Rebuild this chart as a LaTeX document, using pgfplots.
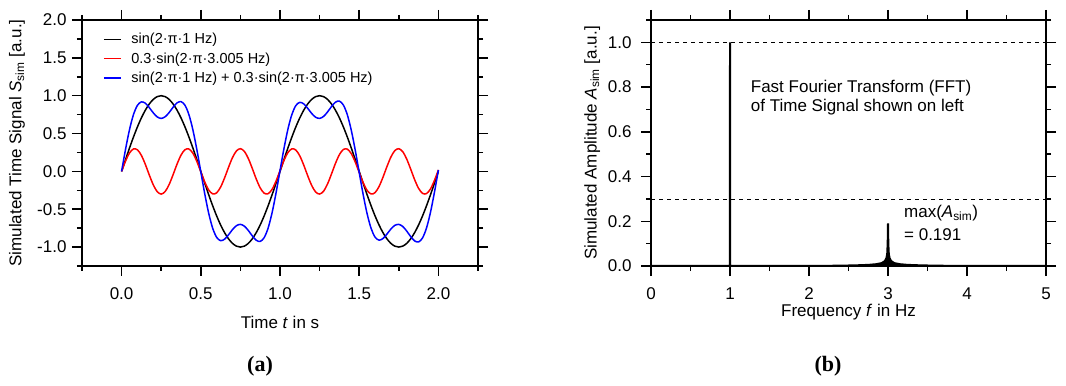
\documentclass[border=0pt]{standalone}
\usepackage{fontspec}
\setmainfont{Liberation Sans}
\newfontfamily\timesfont{Liberation Serif}
\usepackage{pgfplots}
\usepackage{pgfplotstable}
\pgfplotsset{compat=1.18}

\pgfplotstableread{
t b r s
0 0 0 0
0.025 0.15643 0.13641 0.29284
0.05 0.30902 0.24299 0.55201
0.075 0.45399 0.29642 0.75041
0.1 0.58779 0.28503 0.87282
0.125 0.70711 0.21130 0.91841
0.15 0.80902 0.09137 0.90039
0.175 0.89101 -0.04856 0.84245
0.2 0.95106 -0.17786 0.77320
0.225 0.98769 -0.26826 0.71943
0.25 1 -0.3 0.7
0.275 0.98769 -0.26612 0.72157
0.3 0.95106 -0.17405 0.77701
0.325 0.89101 -0.04390 0.84711
0.35 0.80902 0.09585 0.90487
0.375 0.70711 0.21463 0.92174
0.4 0.58779 0.28649 0.87428
0.425 0.45399 0.29568 0.74967
0.45 0.30902 0.24022 0.54924
0.475 0.15643 0.13221 0.28864
0.5 0 -0.00471 -0.00471
0.525 -0.15643 -0.14061 -0.29704
0.55 -0.30902 -0.24576 -0.55478
0.575 -0.45399 -0.29716 -0.75115
0.6 -0.58779 -0.28357 -0.87136
0.625 -0.70711 -0.20797 -0.91508
0.65 -0.80902 -0.08688 -0.89590
0.675 -0.89101 0.05321 -0.83780
0.7 -0.95106 0.18168 -0.76938
0.725 -0.98769 0.27040 -0.71729
0.75 -1 0.3 -0.7
0.775 -0.98769 0.26398 -0.72371
0.8 -0.95106 0.17024 -0.78082
0.825 -0.89101 0.03925 -0.85176
0.85 -0.80902 -0.10033 -0.90935
0.875 -0.70711 -0.21796 -0.92507
0.9 -0.58779 -0.28794 -0.87573
0.925 -0.45399 -0.29495 -0.74894
0.95 -0.30902 -0.23745 -0.54647
0.975 -0.15643 -0.12801 -0.28444
1.0 0 0.00942 0.00942
1.025 0.15643 0.14481 0.30124
1.05 0.30902 0.24853 0.55755
1.075 0.45399 0.29772 0.75171
1.1 0.58779 0.28212 0.86991
1.125 0.70711 0.20463 0.91174
1.15 0.80902 0.08240 0.89142
1.175 0.89101 -0.05787 0.83314
1.2 0.95106 -0.18549 0.76557
1.225 0.98769 -0.27254 0.71515
1.25 1 -0.2997 0.7003
1.275 0.98769 -0.26184 0.72585
1.3 0.95106 -0.16643 0.78463
1.325 0.89101 -0.03460 0.85641
1.35 0.80902 0.10481 0.91383
1.375 0.70711 0.22129 0.92840
1.4 0.58779 0.28940 0.87719
1.425 0.45399 0.29421 0.74820
1.45 0.30902 0.23468 0.54370
1.475 0.15643 0.12381 0.28024
1.5 0 -0.01414 -0.01414
1.525 -0.15643 -0.14901 -0.30544
1.55 -0.30902 -0.25130 -0.56032
1.575 -0.45399 -0.29820 -0.75219
1.6 -0.58779 -0.28066 -0.86845
1.625 -0.70711 -0.20130 -0.90841
1.65 -0.80902 -0.07792 -0.88694
1.675 -0.89101 0.06252 -0.82849
1.7 -0.95106 0.18930 -0.76176
1.725 -0.98769 0.27468 -0.71301
1.75 -1 0.2996 -0.7004
1.775 -0.98769 0.25971 -0.72798
1.8 -0.95106 0.16262 -0.78844
1.825 -0.89101 0.02994 -0.86107
1.85 -0.80902 -0.10929 -0.91831
1.875 -0.70711 -0.22462 -0.93173
1.9 -0.58779 -0.29085 -0.87864
1.925 -0.45399 -0.29347 -0.74746
1.95 -0.30902 -0.23191 -0.54093
1.975 -0.15643 -0.11962 -0.27605
2.0 0 0.01885 0.01885
}\timesig

\pgfplotstableread{
f A
0 0
0.999 0
1 1
1.001 0
2.0 0
2.4 0.0015
2.6 0.003
2.75 0.005
2.85 0.008
2.92 0.013
2.96 0.022
2.98 0.035
2.99 0.055
2.996 0.10
3.0 0.191
3.004 0.10
3.01 0.055
3.02 0.035
3.04 0.022
3.08 0.013
3.15 0.008
3.25 0.005
3.4 0.003
3.6 0.0015
4.0 0
5 0
}\fftdata

\pgfplotsset{
  common/.style={
    scale only axis, width=396bp, height=246bp,
    axis line style={line width=1.5bp},
    tick style={line width=1.5bp, black},
    tick align=outside,
    major tick length=10bp, minor tick length=5bp,
    /pgf/number format/assume math mode=true,
    every axis y label/.style={rotate=90, anchor=center},
    every axis x label/.style={anchor=center},
  }
}

\begin{document}
\begin{tikzpicture}[font=\fontsize{17bp}{20bp}\selectfont]
\path[use as bounding box] (0,0) rectangle (1066bp,386bp);

\begin{axis}[common,
  at={(82bp,120bp)}, anchor=south west,
  xmin=-0.25, xmax=2.25, ymin=-1.25, ymax=2.0,
  xtick={0,0.5,...,2}, minor xtick={-0.25,0.25,0.75,1.25,1.75,2.25},
  ytick={-1,-0.5,...,2}, minor ytick={-1.25,-0.75,-0.25,0.25,0.75,1.25,1.75},
  xticklabel style={font=\fontsize{17bp}{20bp}\selectfont, yshift=-8bp, /pgf/number format/.cd, fixed, fixed zerofill, precision=1},
  yticklabel style={font=\fontsize{17bp}{20bp}\selectfont, xshift=-2bp, /pgf/number format/.cd, fixed, fixed zerofill, precision=1},
  xlabel={Time \textit{t} in s},
  ylabel={Simulated Time Signal \textit{S}\textsubscript{sim} [a.u.]},
  xlabel style={font=\fontsize{17bp}{20bp}\selectfont, at={(axis description cs:0.5,-0.228)}},
  ylabel style={font=\fontsize{17bp}{20bp}\selectfont, at={(axis description cs:-0.164,0.5)}},
  legend style={draw=none, fill=none, at={(0.053,0.955)}, anchor=north west,
    font=\fontsize{14.5bp}{16bp}\selectfont, row sep=3.3bp, inner sep=0pt,
    nodes={inner sep=2bp}},
  legend cell align=left,
]
\addlegendimage{black, line width=1.5bp}
\addlegendentry{\hspace{7.7bp}sin(2·π·1 Hz)}
\addlegendimage{red, line width=1.5bp}
\addlegendentry{\hspace{7.7bp}0.3·sin(2·π·3.005 Hz)}
\addlegendimage{blue, line width=1.5bp}
\addlegendentry{\hspace{7.7bp}sin(2·π·1 Hz) + 0.3·sin(2·π·3.005 Hz)}
\addplot[black, line width=1.5bp, smooth, forget plot] table[x=t, y=b] {\timesig};
\addplot[red, line width=1.5bp, smooth, forget plot] table[x=t, y=r] {\timesig};
\addplot[blue, line width=1.5bp, smooth, forget plot] table[x=t, y=s] {\timesig};
\end{axis}

\begin{axis}[common,
  at={(651bp,120bp)}, anchor=south west,
  width=395bp,
  xmin=0, xmax=5, ymin=0, ymax=1.1,
  xtick={0,1,...,5}, minor xtick={0.5,1.5,...,4.5},
  ytick={0,0.2,...,1.0}, minor ytick={0.1,0.3,0.5,0.7,0.9,1.1},
  xticklabel style={font=\fontsize{17bp}{20bp}\selectfont, yshift=-8bp},
  yticklabel style={font=\fontsize{17bp}{20bp}\selectfont, xshift=-6bp, /pgf/number format/.cd, fixed, fixed zerofill, precision=1},
  xlabel={Frequency \textit{f} in Hz},
  ylabel={Simulated Amplitude \textit{A}\textsubscript{sim} [a.u.]},
  xlabel style={font=\fontsize{17bp}{20bp}\selectfont, at={(axis description cs:0.5,-0.187)}},
  ylabel style={font=\fontsize{17bp}{20bp}\selectfont, at={(axis description cs:-0.149,0.5)}},
]
\addplot[black, line width=0.8bp, dash pattern=on 4bp off 4bp] coordinates {(0,1) (5,1)};
\addplot[black, line width=0.8bp, dash pattern=on 4bp off 4bp] coordinates {(0,0.3) (5,0.3)};
\addplot[black, line width=2bp, fill=black] table[x=f, y=A] {\fftdata} \closedcycle;
\node[anchor=base west] at (axis cs:1.22,0.774) {Fast Fourier Transform (FFT)};
\node[anchor=base west] at (axis cs:1.22,0.693) {of Time Signal shown on left};
\node[anchor=base west] at (axis cs:3.16,0.215) {max(\textit{A}\textsubscript{sim})};
\node[anchor=base west] at (axis cs:3.16,0.113) {= 0.191};
\end{axis}

\node[font=\timesfont\bfseries\fontsize{22bp}{24bp}\selectfont] at (260bp,20bp) {(a)};
\node[font=\timesfont\bfseries\fontsize{22bp}{24bp}\selectfont] at (828bp,20bp) {(b)};
\end{tikzpicture}
\end{document}
